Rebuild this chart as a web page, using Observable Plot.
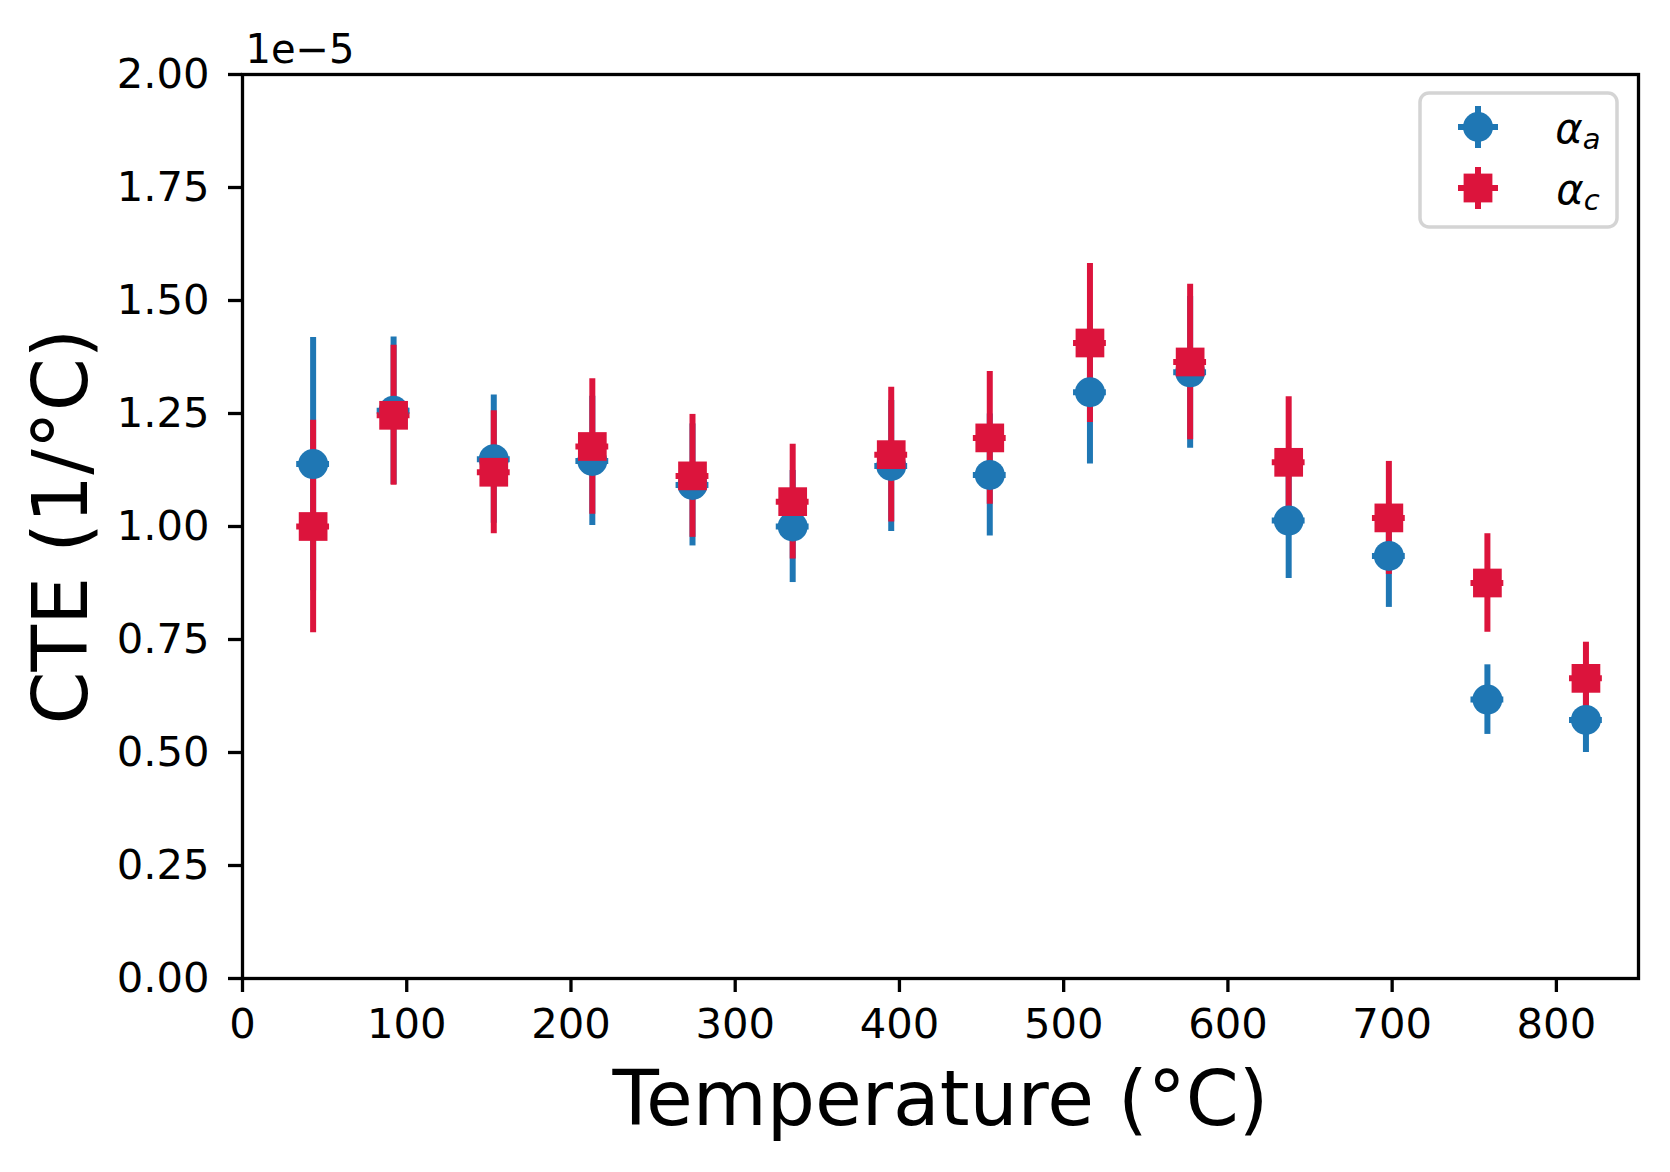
<!DOCTYPE html>
<html>
<head>
<meta charset="utf-8">
<script src="https://cdn.jsdelivr.net/npm/d3@7"></script>
<script src="https://cdn.jsdelivr.net/npm/@observablehq/plot@0.6"></script>
<style>
  html, body { margin: 0; padding: 0; background: #fff; }
  #chart { position: relative; width: 1670px; height: 1172px; }
  svg { font-family: "DejaVu Sans", sans-serif; }
</style>
</head>
<body>
<div id="chart"></div>
<script>
// ---- data (CTE values in units of 1e-5 1/°C) ----
const temperature = [43, 92, 153, 213, 274, 335, 395, 455, 516, 577, 637, 698, 758, 818];
const temperatureErr = [10, 10, 10, 10, 10, 10, 10, 10, 10, 10, 10, 10, 10, 10];
const alphaA    = [1.138, 1.256, 1.149, 1.145, 1.092, 1.000, 1.134, 1.114, 1.297, 1.341, 1.013, 0.935, 0.617, 0.572];
const alphaAErr = [0.280, 0.163, 0.142, 0.143, 0.135, 0.124, 0.145, 0.135, 0.159, 0.168, 0.128, 0.114, 0.077, 0.072];
const alphaC    = [1.000, 1.246, 1.120, 1.177, 1.112, 1.055, 1.159, 1.196, 1.406, 1.364, 1.142, 1.019, 0.875, 0.664];
const alphaCErr = [0.235, 0.155, 0.136, 0.150, 0.136, 0.127, 0.149, 0.147, 0.176, 0.172, 0.145, 0.125, 0.109, 0.080];

const xTicks = [0, 100, 200, 300, 400, 500, 600, 700, 800];
const yTicks = [0, 0.25, 0.5, 0.75, 1.0, 1.25, 1.5, 1.75, 2.0];
const xDomain = [0, 850];
const yDomain = [0, 2.0];
const offsetText = "1e\u22125";
const xLabel = "Temperature (\u00B0C)";
const yLabel = "CTE (1/\u00B0C)";
const seriesSub = ["a", "c"];
const seriesColors = ["#1f77b4", "#dc143c"];

const rows = (vals, errs) => temperature.map((t, i) => ({t, te: temperatureErr[i], v: vals[i], e: errs[i]}));
const rowsA = rows(alphaA, alphaAErr);
const rowsC = rows(alphaC, alphaCErr);

const W = 1670, H = 1172;
const mL = 242, mR = 32, mT = 74, mB = 194;
const lw = 6;

const vbar = (data, color) => Plot.ruleX(data, {x: "t", y1: d => d.v - d.e, y2: d => d.v + d.e, stroke: color, strokeWidth: lw});
const hbar = (data, color) => Plot.ruleY(data, {y: "v", x1: d => d.t - d.te, x2: d => d.t + d.te, stroke: color, strokeWidth: lw});

const svg = Plot.plot({
  width: W, height: H,
  marginLeft: mL, marginRight: mR, marginTop: mT, marginBottom: mB,
  style: {fontFamily: "DejaVu Sans", background: "#fff", color: "#000", overflow: "visible"},
  x: {domain: xDomain},
  y: {domain: yDomain},
  marks: [
    vbar(rowsA, seriesColors[0]),
    hbar(rowsA, seriesColors[0]),
    vbar(rowsC, seriesColors[1]),
    hbar(rowsC, seriesColors[1]),
    Plot.dot(rowsA, {x: "t", y: "v", r: 15, fill: seriesColors[0], stroke: null}),
    Plot.dot(rowsC, {x: "t", y: "v", r: 16.2, symbol: "square", fill: seriesColors[1], stroke: null}),
    Plot.frame({stroke: "#000", strokeWidth: 3.3}),
    Plot.axisX({ticks: xTicks, tickFormat: d3.format("d"), tickSize: 14, tickPadding: 16, fontSize: 41.7, strokeWidth: 3.3, label: null}),
    Plot.axisY({ticks: yTicks, tickFormat: d3.format(".2f"), tickSize: 14, tickPadding: 19, fontSize: 41.7, strokeWidth: 3.3, label: null}),
    Plot.text([xLabel], {frameAnchor: "bottom", textAnchor: "middle", lineAnchor: "bottom", dy: 146, fontSize: 76, fill: "#000"}),
    Plot.text([yLabel], {frameAnchor: "left", textAnchor: "middle", lineAnchor: "bottom", rotate: -90, dx: -156, fontSize: 76, fill: "#000"}),
    Plot.text([offsetText], {frameAnchor: "top-left", textAnchor: "start", lineAnchor: "bottom", dx: 3, dy: -12, fontSize: 40, fill: "#000"})
  ]
});

// ---- legend (inside the frame, upper right) ----
const frameRight = W - mR;
const lg = d3.select(svg).append("g").attr("class", "legend");
const boxW = 197, boxH = 134;
const bx = frameRight - 21 - boxW, by = mT + 19;
lg.append("rect").attr("x", bx).attr("y", by).attr("width", boxW).attr("height", boxH)
  .attr("rx", 9).attr("fill", "#fff").attr("fill-opacity", 0.8)
  .attr("stroke", "#d4d4d4").attr("stroke-width", 3.5);
seriesColors.forEach((c, i) => {
  const cx = bx + 58, cy = by + 34 + i * 61;
  const g = lg.append("g");
  g.append("line").attr("x1", cx).attr("x2", cx).attr("y1", cy - 21).attr("y2", cy + 21).attr("stroke", c).attr("stroke-width", lw);
  g.append("line").attr("x1", cx - 20).attr("x2", cx + 20).attr("y1", cy).attr("y2", cy).attr("stroke", c).attr("stroke-width", lw);
  if (i === 0) {
    g.append("circle").attr("cx", cx).attr("cy", cy).attr("r", 15).attr("fill", c);
  } else {
    g.append("rect").attr("x", cx - 14.4).attr("y", cy - 14.4).attr("width", 28.8).attr("height", 28.8).attr("fill", c);
  }
  const t = g.append("text").attr("x", bx + 158).attr("y", cy + 16)
    .attr("font-size", 41.7).attr("font-style", "italic").attr("font-family", "DejaVu Sans").attr("fill", "#000");
  t.append("tspan").text("\u03B1");
  t.append("tspan").attr("font-size", 29).attr("dy", 6).text(seriesSub[i]);
});

document.getElementById("chart").appendChild(svg);
</script>
</body>
</html>
